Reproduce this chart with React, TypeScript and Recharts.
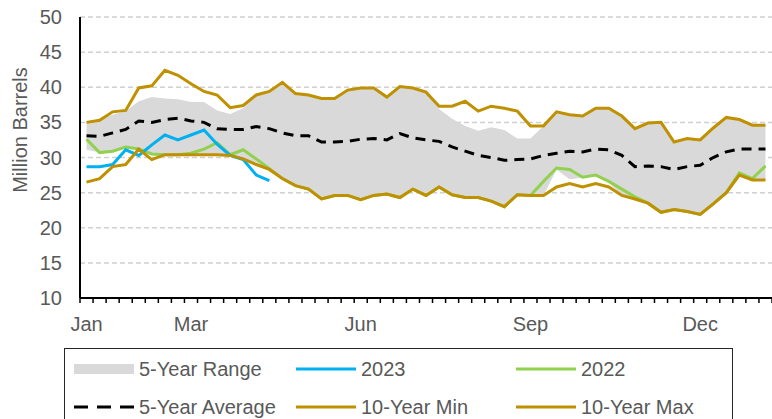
import { ComposedChart, Area, Line, XAxis, YAxis, CartesianGrid } from 'recharts';

// weekly storage, 53 weeks (index 0 = first week of Jan)
const monthTicks = [0, 8, 21, 34, 47];
const monthLabels = ['Jan', 'Mar', 'Jun', 'Sep', 'Dec'];
const yTicks = [10, 15, 20, 25, 30, 35, 40, 45, 50];

const rangeLow = [
  31.1, 30.7, 30.9, 31.3, 31.2, 30.3, 30.4, 30.4, 30.4, 30.4,
  30.4, 30.3, 29.8, 29.0, 28.3, 27.0, 26.0, 25.5, 24.1, 24.6,
  24.6, 24.0, 24.6, 24.8, 24.3, 25.5, 24.6, 25.8, 24.7, 24.3,
  24.3, 23.8, 23.0, 24.7, 24.6, 24.6, 28.3, 26.9, 27.1, 27.4,
  26.4, 24.6, 24.1, 23.5, 22.2, 22.6, 22.3, 21.9, 23.4, 25.0,
  27.5, 26.8, 26.8,
];
const rangeHigh = [
  34.9, 35.4, 36.1, 36.6, 38.0, 38.6, 38.4, 38.3, 37.9, 37.9,
  36.7, 36.2, 37.0, 38.9, 39.4, 40.7, 39.1, 38.9, 38.4, 38.4,
  39.6, 39.9, 39.9, 38.6, 40.1, 39.9, 39.3, 36.9, 35.5, 34.5,
  33.8, 34.3, 33.9, 32.7, 32.7, 34.5, 36.5, 36.1, 35.9, 37.0,
  37.0, 35.9, 34.1, 34.9, 35.0, 32.2, 32.7, 32.5, 34.2, 35.7,
  35.4, 34.6, 34.6,
];
const avg5 = [
  33.1, 33.0, 33.5, 34.0, 35.2, 35.0, 35.4, 35.6, 35.2, 35.0,
  34.1, 34.0, 34.0, 34.4, 34.1, 33.5, 33.1, 33.1, 32.2, 32.2,
  32.3, 32.6, 32.7, 32.5, 33.4, 32.8, 32.5, 32.3, 31.5, 30.9,
  30.3, 30.0, 29.6, 29.7, 29.8, 30.3, 30.6, 30.9, 30.8, 31.2,
  31.1, 30.3, 28.7, 28.8, 28.7, 28.3, 28.7, 28.9, 30.0, 30.8,
  31.2, 31.2, 31.2,
];
const min10 = [
  26.5, 27.0, 28.7, 29.0, 31.2, 29.7, 30.4, 30.4, 30.4, 30.4,
  30.4, 30.3, 29.8, 29.0, 28.3, 27.0, 26.0, 25.5, 24.1, 24.6,
  24.6, 24.0, 24.6, 24.8, 24.3, 25.5, 24.6, 25.8, 24.7, 24.3,
  24.3, 23.8, 23.0, 24.7, 24.6, 24.6, 25.8, 26.3, 25.8, 26.3,
  25.8, 24.6, 24.1, 23.5, 22.2, 22.6, 22.3, 21.9, 23.4, 25.0,
  27.5, 26.8, 26.8,
];
const max10 = [
  35.0, 35.3, 36.5, 36.7, 39.9, 40.2, 42.4, 41.7, 40.5, 39.4,
  38.9, 37.1, 37.4, 38.9, 39.4, 40.7, 39.1, 38.9, 38.4, 38.4,
  39.6, 39.9, 39.9, 38.6, 40.1, 39.9, 39.3, 37.3, 37.3, 38.0,
  36.6, 37.3, 37.0, 36.6, 34.5, 34.5, 36.5, 36.1, 35.9, 37.0,
  37.0, 35.9, 34.1, 34.9, 35.0, 32.2, 32.7, 32.5, 34.2, 35.7,
  35.4, 34.6, 34.6,
];
const y2022 = [
  32.6, 30.7, 30.9, 31.5, 31.2, 30.5, 30.4, 30.4, 30.6, 31.2,
  32.1, 30.4, 31.1, 29.8, 28.4, 27.0, 26.0, 25.5, 24.1, 24.6,
  24.6, 24.0, 24.6, 24.8, 24.3, 25.5, 24.6, 25.8, 24.7, 24.3,
  24.3, 23.8, 23.0, 24.7, 24.6, 26.6, 28.5, 28.3, 27.2, 27.5,
  26.6, 25.5, 24.4, 23.5, 22.2, 22.6, 22.3, 21.9, 23.4, 25.0,
  27.8, 27.0, 28.8,
];
const y2023 = [
  28.7, 28.7, 29.0, 31.1, 30.3, 31.8, 33.2, 32.5, 33.2, 33.9,
  31.9, 30.3, 29.7, 27.5, 26.7,
];

const data = avg5.map((a, i) => ({
  i,
  range: [rangeLow[i], rangeHigh[i]],
  avg: a,
  min: min10[i],
  max: max10[i],
  y22: y2022[i],
  y23: i < y2023.length ? y2023[i] : undefined,
}));

const weekEdges = Array.from({ length: 54 }, (_, k) => k - 0.5);

const GREY = '#d9d9d9';
const BLUE = '#00b0f0';
const GREEN = '#92d050';
const GOLD = '#bf9000';
const TEXT = '#595959';

const WeekTick = (props: any) => {
  const { x, y, payload } = props;
  const m = monthTicks.indexOf(payload.value);
  if (m >= 0) {
    return (
      <text x={x} y={y + 33} textAnchor="middle" fill={TEXT} fontSize={20}>
        {monthLabels[m]}
      </text>
    );
  }
  return <line x1={x} y1={y} x2={x} y2={y + 5} stroke="#000" strokeWidth={1.5} />;
};

const YTitle = () => (
  <text x={22} y={130} transform="rotate(-90, 22, 130)" textAnchor="middle" dominantBaseline="middle" fill={TEXT} fontSize={20}>
    Million Barrels
  </text>
);

const legendItems = [
  { label: '5-Year Range', kind: 'box', color: GREY, left: 9, row: 0 },
  { label: '2023', kind: 'line', color: BLUE, left: 231, row: 0 },
  { label: '2022', kind: 'line', color: GREEN, left: 451, row: 0 },
  { label: '5-Year Average', kind: 'dash', color: '#000', left: 9, row: 1 },
  { label: '10-Year Min', kind: 'line', color: GOLD, left: 231, row: 1 },
  { label: '10-Year Max', kind: 'line', color: GOLD, left: 451, row: 1 },
];

function Swatch({ kind, color }: { kind: string; color: string }) {
  if (kind === 'box') return <div style={{ width: 60, height: 10, background: color }} />;
  return (
    <svg width={60} height={10}>
      <line x1={0} y1={5} x2={60} y2={5} stroke={color} strokeWidth={kind === 'dash' ? 3 : 3}
        strokeDasharray={kind === 'dash' ? '14 9' : undefined} />
    </svg>
  );
}

export default function App() {
  return (
    <div style={{ position: 'absolute', left: 0, top: 0, width: 772, height: 419, overflow: 'hidden', fontFamily: '"Liberation Sans", Arial, sans-serif', background: '#fff' }}>
      <ComposedChart width={772} height={419} data={data} margin={{ top: 17, right: 0, bottom: 81, left: 0 }}>
        <CartesianGrid vertical={false} stroke="#d0d0d0" strokeDasharray="5 3" strokeWidth={1.5} />
        <XAxis
          dataKey="i"
          type="number"
          domain={[-0.5, 52.5]}
          ticks={[...weekEdges, ...monthTicks]}
          interval={0}
          tickSize={0}
          tickMargin={0}
          tickLine={false}
          tick={<WeekTick />}
          axisLine={{ stroke: '#000', strokeWidth: 2 }}
          height={40}
        />
        <YAxis
          domain={[10, 50]}
          ticks={yTicks}
          width={80}
          tickLine={false}
          tickSize={0}
          tickMargin={18}
          tick={{ fill: TEXT, fontSize: 20 }}
          axisLine={{ stroke: '#000', strokeWidth: 2 }}
          label={<YTitle />}
        />
        <Area dataKey="range" fill={GREY} fillOpacity={1} stroke="none" isAnimationActive={false} />
        <Line dataKey="avg" stroke="#000" strokeWidth={3} strokeDasharray="10 7" dot={false} isAnimationActive={false} />
        <Line dataKey="y22" stroke={GREEN} strokeWidth={3} dot={false} isAnimationActive={false} />
        <Line dataKey="y23" stroke={BLUE} strokeWidth={3} dot={false} isAnimationActive={false} />
        <Line dataKey="min" stroke={GOLD} strokeWidth={3} dot={false} isAnimationActive={false} />
        <Line dataKey="max" stroke={GOLD} strokeWidth={3} dot={false} isAnimationActive={false} />
      </ComposedChart>
      <div style={{ position: 'absolute', left: 64, top: 348, width: 669, height: 90, border: '1.5px solid #262626', boxSizing: 'border-box' }}>
        {legendItems.map((it) => (
          <div key={it.label} style={{ position: 'absolute', left: it.left, top: it.row === 0 ? 8 : 46, height: 24, display: 'flex', alignItems: 'center', color: TEXT, fontSize: 20, whiteSpace: 'nowrap' }}>
            <Swatch kind={it.kind} color={it.color} />
            <span style={{ marginLeft: 5 }}>{it.label}</span>
          </div>
        ))}
      </div>
    </div>
  );
}
